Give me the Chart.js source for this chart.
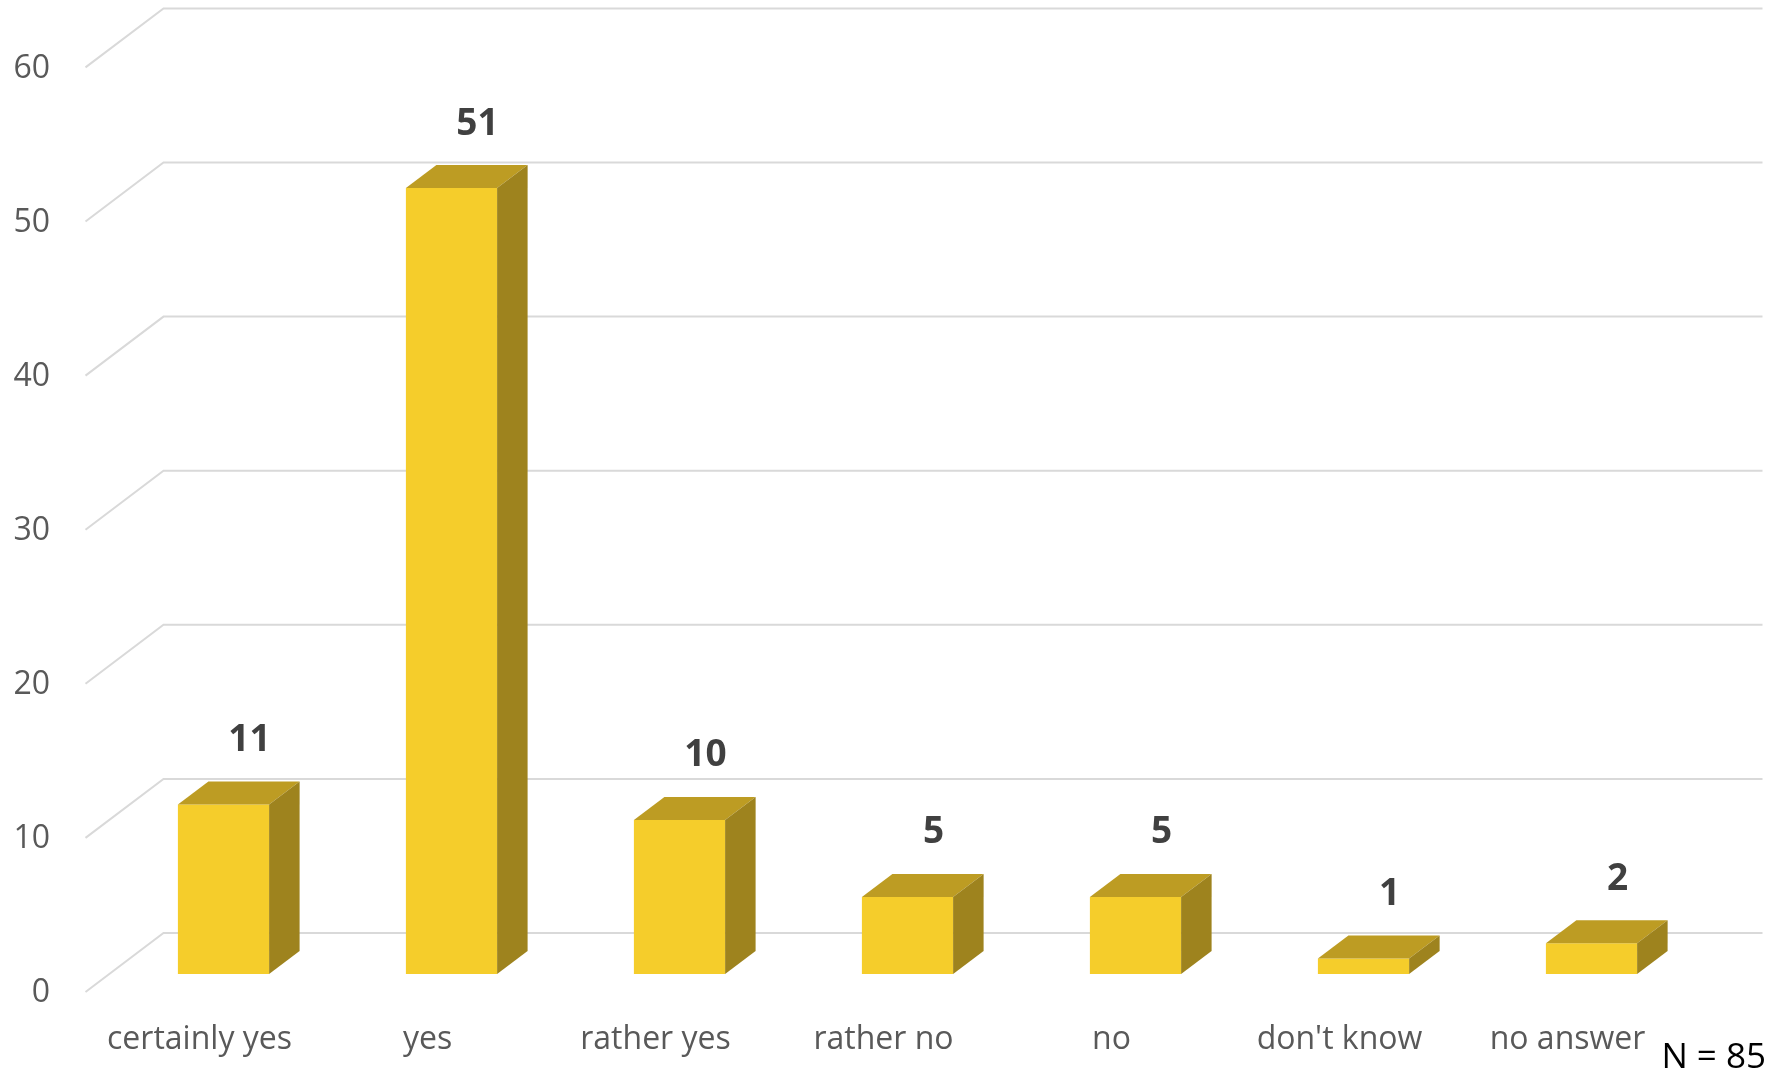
<!DOCTYPE html>
<html>
<head>
<meta charset="utf-8">
<script src="https://cdn.jsdelivr.net/npm/chart.js@4.4.1/dist/chart.umd.min.js"></script>
<style>
  html, body { margin: 0; padding: 0; background: #fff; }
</style>
</head>
<body>
<canvas id="answers-chart" width="1779" height="1073"></canvas>
<script>
var categories = ['certainly yes', 'yes', 'rather yes', 'rather no', 'no', "don't know", 'no answer'];
var counts = [11, 51, 10, 5, 5, 1, 2];
var tickValues = [0, 10, 20, 30, 40, 50, 60];
var sampleNote = 'N = 85';

// fake 3d: offsets from the bar front plane
var wallDx = 54, wallDy = 41;     // back wall
var floorDx = -24, floorDy = 18;  // front edge of the floor
var depthDx = 30.5, depthDy = 23; // bar depth

var gridPlugin = {
    id: 'wallGrid',
    beforeDatasetsDraw: function (chart) {
        var ctx = chart.ctx;
        var yScale = chart.scales.y;
        var area = chart.chartArea;
        ctx.save();
        ctx.strokeStyle = '#d9d9d9';
        ctx.lineWidth = 2;
        for (var i = 0; i < tickValues.length; i++) {
            var y = yScale.getPixelForValue(tickValues[i]);
            ctx.beginPath();
            ctx.moveTo(area.left + floorDx, y + floorDy);
            ctx.lineTo(area.left + wallDx, y - wallDy);
            ctx.lineTo(area.right + wallDx + 3, y - wallDy);
            ctx.stroke();
        }
        ctx.restore();
    }
};

var boxPlugin = {
    id: 'barBoxes',
    afterDatasetsDraw: function (chart) {
        var ctx = chart.ctx;
        var bars = chart.getDatasetMeta(0).data;
        ctx.save();
        for (var i = 0; i < bars.length; i++) {
            var b = bars[i];
            var l = b.x - b.width / 2, r = b.x + b.width / 2;
            var top = b.y, bottom = b.base;

            // top face
            ctx.fillStyle = '#bd9c23';
            ctx.beginPath();
            ctx.moveTo(l, top);
            ctx.lineTo(l + depthDx, top - depthDy);
            ctx.lineTo(r + depthDx, top - depthDy);
            ctx.lineTo(r, top);
            ctx.closePath();
            ctx.fill();

            // side face
            ctx.fillStyle = '#9e831e';
            ctx.beginPath();
            ctx.moveTo(r, top);
            ctx.lineTo(r + depthDx, top - depthDy);
            ctx.lineTo(r + depthDx, bottom - depthDy);
            ctx.lineTo(r, bottom);
            ctx.closePath();
            ctx.fill();

            // value label
            ctx.fillStyle = '#404040';
            ctx.font = 'bold 37px "Open Sans"';
            ctx.textAlign = 'center';
            ctx.textBaseline = 'middle';
            ctx.fillText(String(counts[i]), b.x + 26, top - 64);
        }
        ctx.restore();
    },
    afterDraw: function (chart) {
        var ctx = chart.ctx;
        ctx.save();
        ctx.fillStyle = '#000';
        ctx.font = '35px "Open Sans"';
        ctx.textAlign = 'right';
        ctx.textBaseline = 'alphabetic';
        ctx.fillText(sampleNote, 1766, 1068);
        ctx.restore();
    }
};

var chart = new Chart(document.getElementById('answers-chart'), {
    type: 'bar',
    data: {
        labels: categories,
        datasets: [{
            data: counts,
            backgroundColor: '#f5cd2b',
            borderWidth: 0,
            barPercentage: 0.4,
            categoryPercentage: 1
        }]
    },
    options: {
        responsive: false,
        animation: false,
        events: [],
        layout: { padding: { top: 49.4, right: 73.5, left: 0, bottom: 0 } },
        plugins: {
            legend: { display: false },
            tooltip: { enabled: false }
        },
        scales: {
            x: {
                grid: { display: false, drawTicks: false },
                border: { display: false },
                ticks: {
                    color: '#595959',
                    font: { family: 'Open Sans', size: 32 },
                    labelOffset: floorDx,
                    padding: 47,
                    maxRotation: 0
                },
                afterFit: function (scale) { scale.height = 99; }
            },
            y: {
                min: 0,
                max: 60,
                grid: { display: false, drawTicks: false },
                border: { display: false },
                ticks: {
                    stepSize: 10,
                    color: '#595959',
                    font: { family: 'Open Sans', size: 32 },
                    labelOffset: floorDy + 1,
                    padding: 59.5
                },
                afterFit: function (scale) {
                    scale.width = 109.5;
                    scale.paddingTop = 0;
                    scale.paddingBottom = 0;
                }
            }
        }
    },
    plugins: [gridPlugin, boxPlugin]
});
</script>
</body>
</html>
